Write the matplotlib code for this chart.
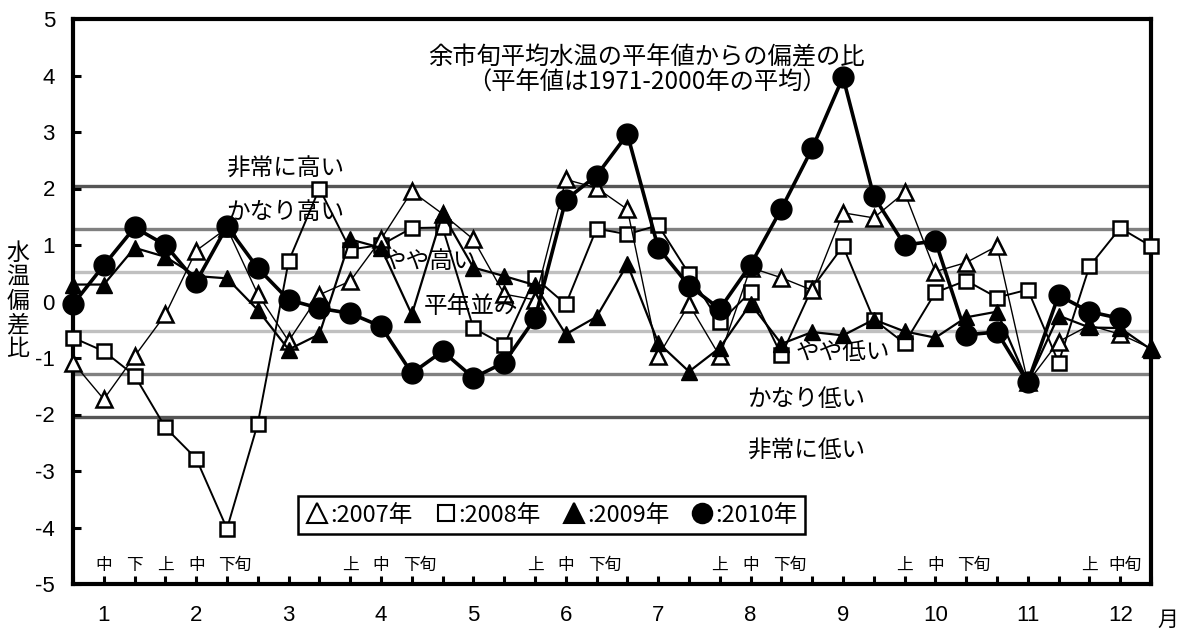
import matplotlib
matplotlib.use("Agg")
import matplotlib.pyplot as plt

plt.rcParams['font.family'] = ['Noto Sans CJK JP', 'DejaVu Sans']
plt.rcParams['axes.unicode_minus'] = False

# 旬 index 0 = 1月上旬 ... 35 = 12月下旬
y2007 = [-1.08, -1.73, -0.97, -0.23, 0.90, 1.30, 0.13, -0.70, 0.12, 0.36, 1.10, 1.95,
         1.55, 1.10, 0.13, 0.03, 2.16, 2.01, 1.63, -0.97, -0.05, -0.97, 0.60, 0.42,
         0.20, 1.57, 1.48, 1.93, 0.53, 0.69, 0.98, -1.43, -0.71, -0.42, -0.58, -0.83]
y2008 = [-0.64, -0.88, -1.31, -2.23, -2.78, -4.02, -2.16, 0.71, 2.00, 0.92, 1.00, 1.30,
         1.31, -0.47, -0.77, 0.42, -0.05, 1.29, 1.19, 1.35, 0.49, -0.37, 0.17, -0.95,
         0.24, 0.98, -0.32, -0.74, 0.16, 0.37, 0.07, 0.21, -1.08, 0.62, 1.30, 0.98]
y2009 = [0.30, 0.30, 0.95, 0.79, 0.45, 0.41, -0.15, -0.85, -0.58, 1.10, 0.95, -0.23,
         1.55, 0.60, 0.45, 0.29, -0.58, -0.27, 0.66, -0.73, -1.24, -0.82, -0.04, -0.75,
         -0.54, -0.60, -0.32, -0.53, -0.64, -0.28, -0.18, -1.43, -0.25, -0.46, -0.47, -0.85]
y2010 = [-0.05, 0.64, 1.31, 1.00, 0.35, 1.33, 0.59, 0.03, -0.12, -0.21, -0.44, -1.27,
         -0.88, -1.35, -1.08, -0.30, 1.80, 2.23, 2.96, 0.95, 0.28, -0.13, 0.65, 1.64,
         2.71, 3.97, 1.86, 1.00, 1.07, -0.59, -0.54, -1.43, 0.11, -0.18, -0.30]

months = [str(m) for m in range(1, 13)]
levels = [2.05, 1.28, 0.52, -0.52, -1.28, -2.05]
level_colors = ['#555555', '#808080', '#c0c0c0', '#c0c0c0', '#808080', '#555555']
level_names = ['非常に高い', 'かなり高い', 'やや高い', '平年並み', 'やや低い', 'かなり低い', '非常に低い']
level_pos = [(6.88, 2.34), (6.88, 1.58), (11.6, 0.71), (12.93, -0.09),
             (25.0, -0.90), (23.8, -1.73), (23.8, -2.65)]
jun_labels = [(1, '中'), (2, '下'), (3, '上'), (4, '中'), (5, '下旬'),
              (9, '上'), (10, '中'), (11, '下旬'),
              (15, '上'), (16, '中'), (17, '下旬'),
              (21, '上'), (22, '中'), (23, '下旬'),
              (27, '上'), (28, '中'), (29, '下旬'),
              (33.0, '上'), (33.88, '中旬')]

fig = plt.figure(figsize=(11.86, 6.32), dpi=100)
ax = fig.add_axes([73 / 1186, 48 / 632, 1078 / 1186, 565 / 632])

for lv, c in zip(levels, level_colors):
    ax.axhline(lv, color=c, lw=2.4, zorder=1)

x = list(range(36))
ax.plot(x[:len(y2008)], y2008, color='black', lw=1.4, marker='s', ms=10,
        mfc='white', mec='black', mew=1.8, zorder=3, clip_on=False, label=':2008年')
ax.plot(x[:len(y2007)], y2007, color='black', lw=1.0, marker='^', ms=11,
        mfc='white', mec='black', mew=1.8, zorder=4, clip_on=False, label=':2007年')
ax.plot(x[:len(y2009)], y2009, color='black', lw=1.6, marker='^', ms=11,
        mfc='black', mec='black', zorder=5, clip_on=False, label=':2009年')
ax.plot(x[:len(y2010)], y2010, color='black', lw=2.6, marker='o', ms=15,
        mfc='black', mec='black', zorder=6, clip_on=False, label=':2010年')

ax.set_xlim(0, 35)
ax.set_ylim(-5, 5)
ax.set_yticks(range(-5, 6))
ax.set_xticks(x)
ax.set_xticklabels(['' if i % 3 != 1 else months[i // 3] for i in x])
ax.tick_params(direction='in', length=6, width=2.2, pad=13, labelsize=16)
ax.tick_params(axis='x', pad=15)
for lab in ax.get_xticklabels() + ax.get_yticklabels():
    lab.set_family(['Liberation Sans', 'DejaVu Sans'])
for s in ax.spines.values():
    s.set_linewidth(3)

for (tx, ty), name in zip(level_pos, level_names):
    ax.text(tx, ty, name, fontsize=17, ha='center', va='center', zorder=7)

for pos, lab in jun_labels:
    if len(lab) == 2:
        ax.text(pos - 0.28, -4.67, lab, fontsize=12, ha='left', va='center')
    else:
        ax.text(pos, -4.67, lab, fontsize=12, ha='center', va='center')

ax.text(18.63, 4.32, '余市旬平均水温の平年値からの偏差の比', fontsize=17.5,
        ha='center', va='center', zorder=7)
ax.text(18.63, 3.88, '（平年値は1971-2000年の平均）', fontsize=17.5,
        ha='center', va='center', zorder=7)

fig.text(18 / 1186, 1 - 301 / 632, '水\n温\n偏\n差\n比', fontsize=16.5,
         ha='center', va='center', linespacing=1.05)
fig.text(1168 / 1186, 1 - 620 / 632, '月', fontsize=15, ha='center', va='center')

handles, labels = ax.get_legend_handles_labels()
order = [1, 0, 2, 3]
leg = ax.legend([handles[i] for i in order], [labels[i] for i in order],
                loc='center', bbox_to_anchor=(0.444, 0.122), ncol=4, fontsize=17,
                frameon=True, fancybox=False, edgecolor='black', framealpha=1,
                handlelength=1.0, handletextpad=0.05, columnspacing=0.9,
                borderpad=0.3)
leg.get_frame().set_linewidth(1.8)
for h, ms in zip(leg.legend_handles, [14, 12, 14, 14]):
    h.set_linestyle('none')
    h.set_markersize(ms)
    h.set_markeredgewidth(1.5)
leg.set_zorder(8)

fig.savefig('out.png', dpi=100)
